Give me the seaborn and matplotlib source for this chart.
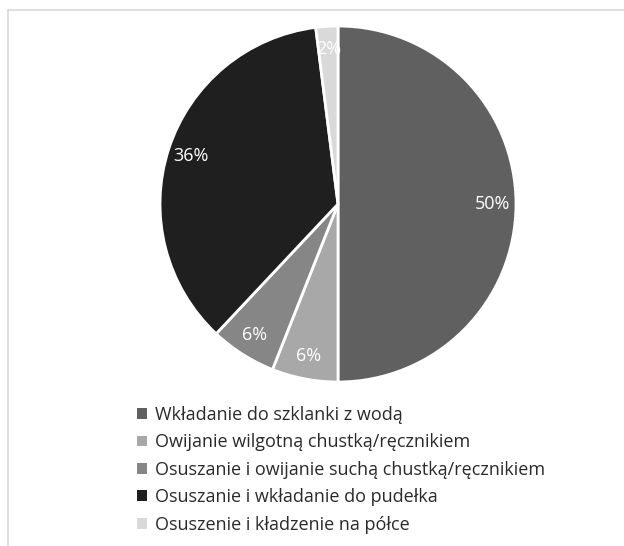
import matplotlib
matplotlib.use("Agg")
import matplotlib.pyplot as plt
import seaborn as sns
from matplotlib.patches import Patch
from matplotlib.lines import Line2D

categories = [
    "Wkładanie do szklanki z wodą",
    "Owijanie wilgotną chustką/ręcznikiem",
    "Osuszanie i owijanie suchą chustką/ręcznikiem",
    "Osuszanie i wkładanie do pudełka",
    "Osuszenie i kładzenie na półce",
]
values = [50, 6, 6, 36, 2]
colors = ["#606060", "#a8a8a8", "#868686", "#1f1f1f", "#d9d9d9"]

sns.set_theme(style="white")
plt.rcParams['font.family'] = ['Open Sans', 'DejaVu Sans']

W, H = 624, 546
fig = plt.figure(figsize=(W / 100, H / 100), dpi=100)
fig.patch.set_facecolor("white")

cx, cy, r = 338, 204, 178
ax = fig.add_axes([(cx - r) / W, (H - cy - r) / H, 2 * r / W, 2 * r / H])
wedges, texts, autotexts = ax.pie(
    values, colors=colors, startangle=90, counterclock=False,
    autopct=lambda p: f"{p:.0f}%", pctdistance=0.87,
    wedgeprops=dict(edgecolor="white", linewidth=2),
    textprops=dict(color="white", fontsize=13),
)
ax.set_xlim(-1, 1)
ax.set_ylim(-1, 1)
ax.set_aspect("equal")
ax.axis("off")

handles = [Patch(facecolor=c, edgecolor="none") for c in colors]
fig.legend(handles, categories, loc="upper left",
           bbox_to_anchor=(137 / W, 1 - 406 / H), frameon=False,
           fontsize=13, handlelength=0.55, handleheight=0.55,
           handletextpad=0.45, labelspacing=0.52, borderaxespad=0,
           borderpad=0, labelcolor="#2a2a2a")

# frame lines
fig.add_artist(Line2D([8 / W, 1], [1 - 10 / H, 1 - 10 / H], color="#d9d9d9", lw=1.2,
                      transform=fig.transFigure))
fig.add_artist(Line2D([8 / W, 8 / W], [0, 1 - 10 / H], color="#d9d9d9", lw=1.2,
                      transform=fig.transFigure))

fig.savefig("out.png", dpi=100)
